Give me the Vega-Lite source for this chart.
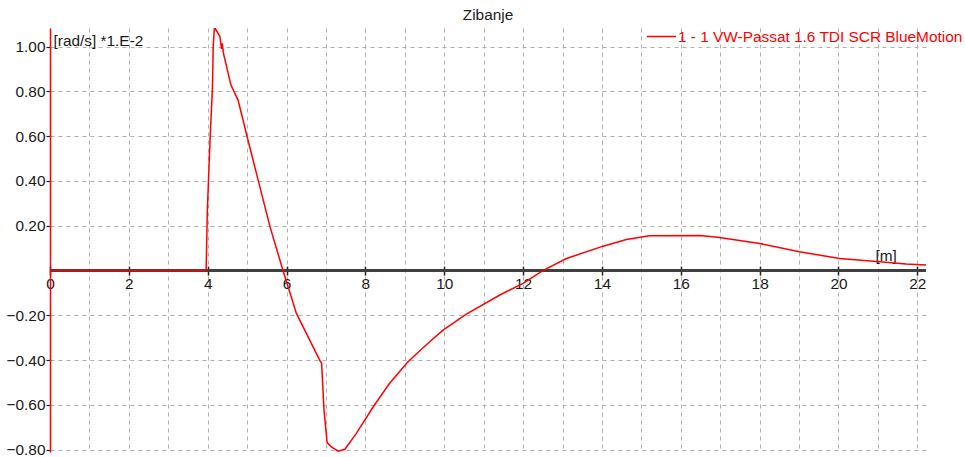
{
  "$schema": "https://vega.github.io/schema/vega-lite/v6.json",
  "autosize": {"type": "none"},
  "padding": {"left": 50, "top": 28, "right": 39, "bottom": 5},
  "width": 876,
  "height": 424,
  "background": "white",
  "title": {"text": "Zibanje", "fontSize": 15.4, "fontWeight": "normal", "font": "Liberation Sans", "color": "#222222", "anchor": "middle", "frame": "group", "offset": -2},
  "data": {"values": [
    {"x": 0, "v": 0, "series": "1 - 1 VW-Passat 1.6 TDI SCR BlueMotion"},
    {"x": 3.96, "v": 0, "series": "1 - 1 VW-Passat 1.6 TDI SCR BlueMotion"},
    {"x": 3.97, "v": 0.084, "series": "1 - 1 VW-Passat 1.6 TDI SCR BlueMotion"},
    {"x": 3.99, "v": 0.263, "series": "1 - 1 VW-Passat 1.6 TDI SCR BlueMotion"},
    {"x": 4.03, "v": 0.449, "series": "1 - 1 VW-Passat 1.6 TDI SCR BlueMotion"},
    {"x": 4.07, "v": 0.627, "series": "1 - 1 VW-Passat 1.6 TDI SCR BlueMotion"},
    {"x": 4.12, "v": 0.813, "series": "1 - 1 VW-Passat 1.6 TDI SCR BlueMotion"},
    {"x": 4.14, "v": 1.0, "series": "1 - 1 VW-Passat 1.6 TDI SCR BlueMotion"},
    {"x": 4.17, "v": 1.086, "series": "1 - 1 VW-Passat 1.6 TDI SCR BlueMotion"},
    {"x": 4.31, "v": 1.045, "series": "1 - 1 VW-Passat 1.6 TDI SCR BlueMotion"},
    {"x": 4.35, "v": 0.99, "series": "1 - 1 VW-Passat 1.6 TDI SCR BlueMotion"},
    {"x": 4.37, "v": 1.015, "series": "1 - 1 VW-Passat 1.6 TDI SCR BlueMotion"},
    {"x": 4.40, "v": 0.97, "series": "1 - 1 VW-Passat 1.6 TDI SCR BlueMotion"},
    {"x": 4.46, "v": 0.925, "series": "1 - 1 VW-Passat 1.6 TDI SCR BlueMotion"},
    {"x": 4.59, "v": 0.828, "series": "1 - 1 VW-Passat 1.6 TDI SCR BlueMotion"},
    {"x": 4.77, "v": 0.761, "series": "1 - 1 VW-Passat 1.6 TDI SCR BlueMotion"},
    {"x": 4.98, "v": 0.612, "series": "1 - 1 VW-Passat 1.6 TDI SCR BlueMotion"},
    {"x": 5.28, "v": 0.404, "series": "1 - 1 VW-Passat 1.6 TDI SCR BlueMotion"},
    {"x": 5.58, "v": 0.196, "series": "1 - 1 VW-Passat 1.6 TDI SCR BlueMotion"},
    {"x": 5.91, "v": 0.0, "series": "1 - 1 VW-Passat 1.6 TDI SCR BlueMotion"},
    {"x": 6.25, "v": -0.191, "series": "1 - 1 VW-Passat 1.6 TDI SCR BlueMotion"},
    {"x": 6.84, "v": -0.40, "series": "1 - 1 VW-Passat 1.6 TDI SCR BlueMotion"},
    {"x": 6.89, "v": -0.414, "series": "1 - 1 VW-Passat 1.6 TDI SCR BlueMotion"},
    {"x": 6.95, "v": -0.623, "series": "1 - 1 VW-Passat 1.6 TDI SCR BlueMotion"},
    {"x": 7.03, "v": -0.769, "series": "1 - 1 VW-Passat 1.6 TDI SCR BlueMotion"},
    {"x": 7.14, "v": -0.787, "series": "1 - 1 VW-Passat 1.6 TDI SCR BlueMotion"},
    {"x": 7.31, "v": -0.806, "series": "1 - 1 VW-Passat 1.6 TDI SCR BlueMotion"},
    {"x": 7.48, "v": -0.798, "series": "1 - 1 VW-Passat 1.6 TDI SCR BlueMotion"},
    {"x": 7.77, "v": -0.727, "series": "1 - 1 VW-Passat 1.6 TDI SCR BlueMotion"},
    {"x": 8.20, "v": -0.608, "series": "1 - 1 VW-Passat 1.6 TDI SCR BlueMotion"},
    {"x": 8.61, "v": -0.504, "series": "1 - 1 VW-Passat 1.6 TDI SCR BlueMotion"},
    {"x": 9.08, "v": -0.407, "series": "1 - 1 VW-Passat 1.6 TDI SCR BlueMotion"},
    {"x": 9.63, "v": -0.318, "series": "1 - 1 VW-Passat 1.6 TDI SCR BlueMotion"},
    {"x": 9.97, "v": -0.266, "series": "1 - 1 VW-Passat 1.6 TDI SCR BlueMotion"},
    {"x": 10.56, "v": -0.194, "series": "1 - 1 VW-Passat 1.6 TDI SCR BlueMotion"},
    {"x": 11.41, "v": -0.109, "series": "1 - 1 VW-Passat 1.6 TDI SCR BlueMotion"},
    {"x": 12.0, "v": -0.057, "series": "1 - 1 VW-Passat 1.6 TDI SCR BlueMotion"},
    {"x": 12.5, "v": 0.0, "series": "1 - 1 VW-Passat 1.6 TDI SCR BlueMotion"},
    {"x": 13.1, "v": 0.054, "series": "1 - 1 VW-Passat 1.6 TDI SCR BlueMotion"},
    {"x": 14.03, "v": 0.109, "series": "1 - 1 VW-Passat 1.6 TDI SCR BlueMotion"},
    {"x": 14.62, "v": 0.139, "series": "1 - 1 VW-Passat 1.6 TDI SCR BlueMotion"},
    {"x": 15.2, "v": 0.155, "series": "1 - 1 VW-Passat 1.6 TDI SCR BlueMotion"},
    {"x": 16.5, "v": 0.157, "series": "1 - 1 VW-Passat 1.6 TDI SCR BlueMotion"},
    {"x": 16.98, "v": 0.148, "series": "1 - 1 VW-Passat 1.6 TDI SCR BlueMotion"},
    {"x": 18.0, "v": 0.121, "series": "1 - 1 VW-Passat 1.6 TDI SCR BlueMotion"},
    {"x": 19.01, "v": 0.084, "series": "1 - 1 VW-Passat 1.6 TDI SCR BlueMotion"},
    {"x": 20.03, "v": 0.054, "series": "1 - 1 VW-Passat 1.6 TDI SCR BlueMotion"},
    {"x": 21.04, "v": 0.039, "series": "1 - 1 VW-Passat 1.6 TDI SCR BlueMotion"},
    {"x": 21.72, "v": 0.029, "series": "1 - 1 VW-Passat 1.6 TDI SCR BlueMotion"},
    {"x": 22.22, "v": 0.025, "series": "1 - 1 VW-Passat 1.6 TDI SCR BlueMotion"}
  ]},
  "layer": [
    {
      "mark": {"type": "rule", "color": "#404040", "strokeWidth": 1.5},
      "encoding": {"y": {"datum": 0, "type": "quantitative", "scale": {"domain": [-0.81, 1.083], "nice": false, "zero": false}}}
    },
    {
      "mark": {"type": "line", "strokeWidth": 1.5, "clip": true},
      "encoding": {
        "x": {
          "field": "x", "type": "quantitative",
          "scale": {"domain": [0, 22.22], "nice": false, "zero": false},
          "axis": {
            "values": [0,1,2,3,4,5,6,7,8,9,10,11,12,13,14,15,16,17,18,19,20,21,22],
            "offset": -185.9,
            "domain": false,
            "tickSize": 9,
            "tickWidth": 1.5,
            "tickColor": "#222222",
            "tickOpacity": {"condition": {"test": "datum.value % 2 === 0", "value": 1}, "value": 0},
            "labelExpr": "datum.value % 2 === 0 ? datum.label : ''",
            "format": "d",
            "labelPadding": 1.5,
            "labelFont": "Liberation Sans",
            "labelFontSize": 15.4,
            "labelColor": "#1a1a1a",
            "labelFlush": false,
            "labelOverlap": false,
            "grid": true,
            "gridColor": "#b0b0b0",
            "gridDash": [4, 4],
            "gridWidth": 1,
            "title": "[m]",
            "titleX": 825,
            "titleY": -5.4,
            "titleAlign": "left",
            "titleBaseline": "alphabetic",
            "titleFont": "Liberation Sans",
            "titleFontSize": 15.4,
            "titleFontWeight": "normal",
            "titleColor": "#1a1a1a"
          }
        },
        "y": {
          "field": "v", "type": "quantitative",
          "scale": {"domain": [-0.81, 1.083], "nice": false, "zero": false},
          "axis": {
            "values": [-0.8, -0.6, -0.4, -0.2, 0.2, 0.4, 0.6, 0.8, 1.0],
            "format": ".2f",
            "domainColor": "#ff0000",
            "domainWidth": 1.5,
            "tickSize": 4,
            "tickColor": "#222222",
            "tickWidth": 1.2,
            "labelPadding": 1,
            "labelFont": "Liberation Sans",
            "labelFontSize": 15.4,
            "labelColor": "#1a1a1a",
            "labelFlush": false,
            "labelOverlap": false,
            "grid": true,
            "gridColor": "#b0b0b0",
            "gridDash": [4, 4],
            "gridWidth": 1,
            "title": "[rad/s] *1.E-2",
            "titleAngle": 0,
            "titleX": 3,
            "titleY": 17,
            "titleAlign": "left",
            "titleBaseline": "alphabetic",
            "titleFont": "Liberation Sans",
            "titleFontSize": 15.4,
            "titleFontWeight": "normal",
            "titleColor": "#1a1a1a"
          }
        },
        "color": {
          "field": "series", "type": "nominal",
          "scale": {"range": ["#ff0000"]},
          "legend": {
            "orient": "none",
            "legendX": 596,
            "legendY": -7,
            "title": null,
            "symbolType": "stroke",
            "symbolSize": 841,
            "symbolStrokeWidth": 1.5,
            "labelOffset": 1,
            "labelFont": "Liberation Sans",
            "labelFontSize": 15.4,
            "labelColor": "#ff0000",
            "labelLimit": 500,
            "padding": 0
          }
        }
      }
    }
  ],
  "config": {"view": {"stroke": null}}
}
